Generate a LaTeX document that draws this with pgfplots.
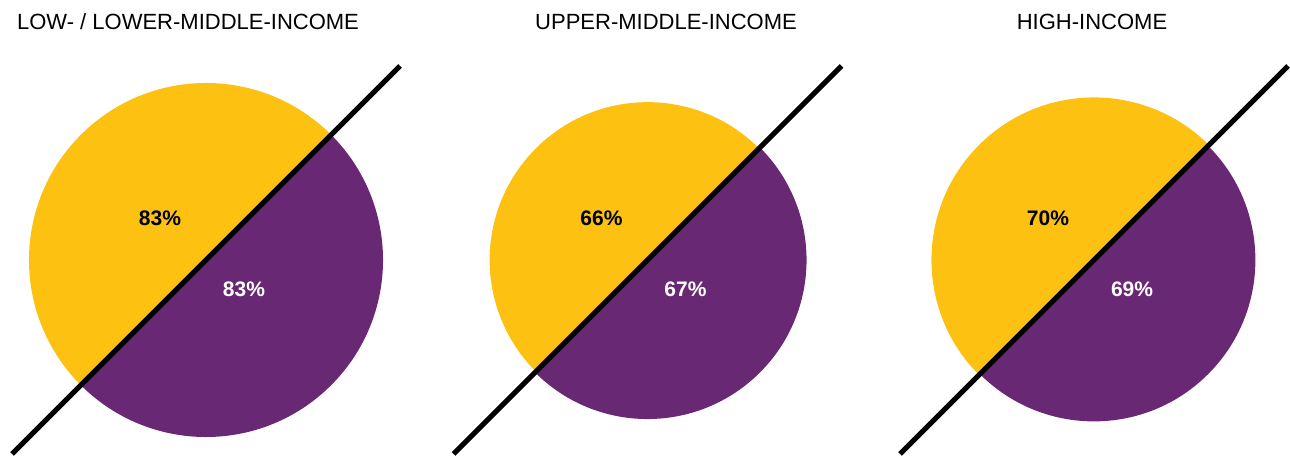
\documentclass[border=0pt]{standalone}
\usepackage{pgfplots}
\pgfplotsset{compat=1.18}
\usepackage{fontspec}
\setmainfont{Liberation Sans}
\definecolor{cyel}{RGB}{253,193,17}
\definecolor{cpur}{RGB}{105,40,116}
% values (left half = yellow, right half = purple); area proportional to value
\def\vAl{83}\def\vAr{83}
\def\vBl{66}\def\vBr{67}
\def\vCl{70}\def\vCr{69}
\pgfmathsetmacro{\rAl}{19.43*sqrt(\vAl)}\pgfmathsetmacro{\rAr}{19.43*sqrt(\vAr)}
\pgfmathsetmacro{\rBl}{19.43*sqrt(\vBl)}\pgfmathsetmacro{\rBr}{19.43*sqrt(\vBr)}
\pgfmathsetmacro{\rCl}{19.43*sqrt(\vCl)}\pgfmathsetmacro{\rCr}{19.43*sqrt(\vCr)}
\newcommand{\halves}[3]{% #1 centre x, #2 left radius, #3 right radius
  \fill[cyel] (axis cs:#1,195) -- ++(45:#2 pt) arc[start angle=45, end angle=225, radius=#2 pt] -- cycle;
  \fill[cpur] (axis cs:#1,195) -- ++(225:#3 pt) arc[start angle=225, end angle=405, radius=#3 pt] -- cycle;
}
\begin{document}
\begin{tikzpicture}
\begin{axis}[anchor=origin, at={(0,0)}, x=1pt, y=1pt,
  xmin=0, xmax=1290, ymin=0, ymax=455, hide axis, clip=false]
\halves{206}{\rAl}{\rAr}
\halves{647.5}{\rBl}{\rBr}
\halves{1094}{\rCl}{\rCr}
\addplot[black, line width=5pt] coordinates {(12,1) (400,389)};
\addplot[black, line width=5pt] coordinates {(453.5,1) (841.5,389)};
\addplot[black, line width=5pt] coordinates {(900,1) (1288,389)};
\begin{scope}[every node/.style={font=\fontsize{21}{25}\selectfont\bfseries}]
\node[black] at (axis cs:160,237) {\vAl\%};
\node[white] at (axis cs:244,166) {\vAr\%};
\node[black] at (axis cs:601.5,237) {\vBl\%};
\node[white] at (axis cs:685.5,166) {\vBr\%};
\node[black] at (axis cs:1048,237) {\vCl\%};
\node[white] at (axis cs:1132,166) {\vCr\%};
\end{scope}
\begin{scope}[every node/.style={font=\fontsize{22}{26}\selectfont}]
\node at (axis cs:188,433) {LOW- / LOWER-MIDDLE-INCOME};
\node at (axis cs:666,433) {UPPER-MIDDLE-INCOME};
\node at (axis cs:1092,433) {HIGH-INCOME};
\end{scope}
\end{axis}
\pgfresetboundingbox
\path[use as bounding box] (0,0) rectangle (1290pt,455pt);
\end{tikzpicture}
\end{document}
